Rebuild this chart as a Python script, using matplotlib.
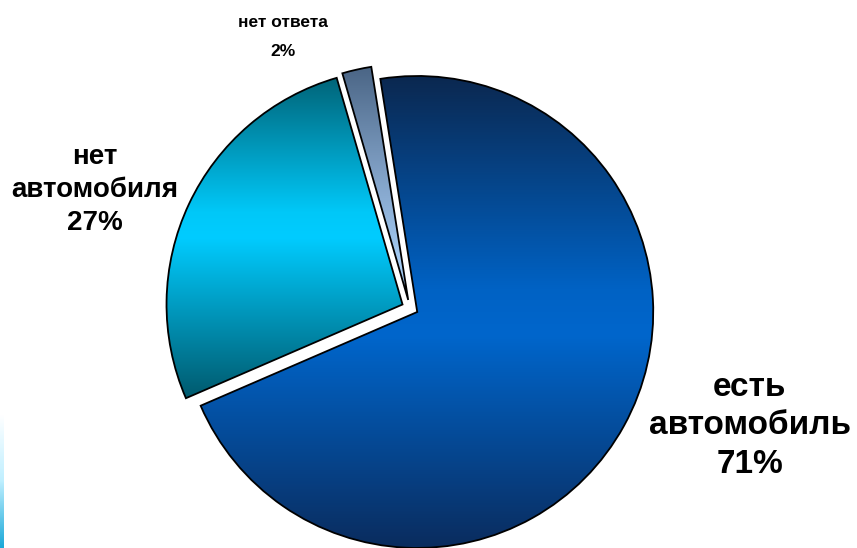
import numpy as np
import matplotlib
matplotlib.use("Agg")
import matplotlib.pyplot as plt
import matplotlib.patches as mpatches
from matplotlib.colors import LinearSegmentedColormap

# Данные
categories = ["есть\nавтомобиль", "нет\nавтомобиля", "нет ответа"]
shares = [71, 27, 2]

# Градиенты для секторов (сверху вниз)
gradients = [
    ["#0b2850", "#0062c4", "#0066cc", "#0a2c5e"],
    ["#006478", "#00c8f8", "#00ccff", "#005a6e"],
    ["#4a6585", "#7f9fc4", "#a5cdf5", "#98c0e8"],
]
stops = [
    [0.0, 0.45, 0.55, 1.0],
    [0.0, 0.42, 0.50, 1.0],
    [0.0, 0.45, 0.85, 1.0],
]

plt.rcParams["font.family"] = ["Liberation Sans", "DejaVu Sans"]

XLIM = (-410 / 236, 447 / 236)
YLIM = (-240 / 236, 308 / 236)

fig = plt.figure(figsize=(8.57, 5.48), dpi=100)
ax = fig.add_axes([0, 0, 1, 1])
ax.axis("off")

wedges, _ = ax.pie(
    shares, startangle=99, counterclock=False,
    explode=[0.035, 0.035, 0.035], radius=1,
    wedgeprops=dict(facecolor="none", edgecolor="black", linewidth=1.3),
)
ax.set_aspect("auto")

for w, cols, st in zip(wedges, gradients, stops):
    w.set_zorder(3)
    # белая окантовка сектора
    halo = mpatches.Wedge(w.center, w.r, w.theta1, w.theta2,
                          facecolor="white", edgecolor="white",
                          linewidth=9, zorder=1)
    ax.add_patch(halo)
    # вертикальный градиент, обрезанный по сектору
    bb = mpatches.Wedge(w.center, w.r, w.theta1, w.theta2).get_path().get_extents()
    cmap = LinearSegmentedColormap.from_list("g", list(zip(st, cols)))
    grad = np.linspace(0, 1, 256).reshape(-1, 1)
    im = ax.imshow(grad, cmap=cmap, aspect="auto", origin="upper",
                   extent=[bb.x0, bb.x1, bb.y0, bb.y1], zorder=2,
                   interpolation="bilinear")
    im.set_clip_path(w)

# Подписи
ax.text(1.44, -0.50, f"{categories[0]}\n{shares[0]}%", ha="center", va="center",
        fontsize=24, fontweight="bold", linespacing=1.3, color="black")
ax.text(-1.335, 0.50, f"{categories[1]}\n{shares[1]}%", ha="center", va="center",
        fontsize=20, fontweight="bold", linespacing=1.35, color="black")
ax.text(-0.54, 1.21, categories[2], ha="center", va="center",
        fontsize=12.5, fontweight="bold", color="black")
ax.text(-0.54, 1.085, f"{shares[2]}%", ha="center", va="center",
        fontsize=12.5, fontweight="bold", color="black")

# Декоративная полоса у левого края
strip = np.linspace(0, 1, 128).reshape(-1, 1)
scmap = LinearSegmentedColormap.from_list("s", ["#ffffff", "#bfefff", "#1aa8d8"])
ax.imshow(strip, cmap=scmap, aspect="auto", origin="upper",
          extent=[XLIM[0], XLIM[0] + 4 / 236, YLIM[0], -0.45], zorder=0)

ax.set_xlim(*XLIM)
ax.set_ylim(*YLIM)

fig.savefig("out.png", dpi=100, facecolor="white")
